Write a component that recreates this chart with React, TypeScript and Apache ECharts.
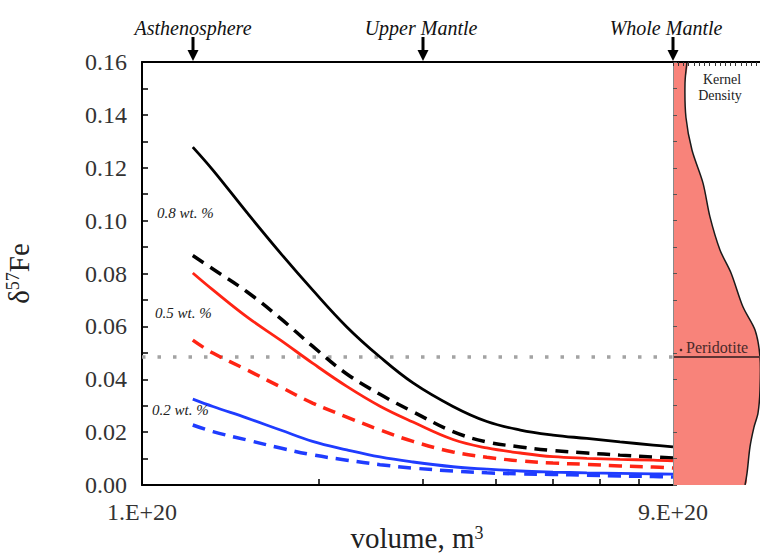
import React, { useEffect, useRef } from 'react';
import * as echarts from 'echarts';

// Volume in units of 1e20 m^3 (log-scaled axis)
const VOLUME = [1.22, 1.32, 1.51, 1.72, 1.95, 2.23, 2.54, 2.89, 3.38, 3.86, 4.4, 5.0, 5.71, 6.5, 7.4, 8.0];
const BLACK_SOLID = [0.1278, 0.1191, 0.1029, 0.0877, 0.0738, 0.0598, 0.0484, 0.0386, 0.0297, 0.0240, 0.0208, 0.0189, 0.0176, 0.0163, 0.0151, 0.0144];
const BLACK_DASHED = [0.0868, 0.0817, 0.0730, 0.0630, 0.0525, 0.0420, 0.0343, 0.0277, 0.0202, 0.0163, 0.0144, 0.0130, 0.0121, 0.0113, 0.0106, 0.0102];
const RED_SOLID = [0.0802, 0.0738, 0.0635, 0.0548, 0.0461, 0.0373, 0.0298, 0.0238, 0.0172, 0.0140, 0.0121, 0.0107, 0.0101, 0.0097, 0.0094, 0.0091];
const RED_DASHED = [0.0548, 0.0499, 0.0435, 0.0371, 0.0310, 0.0257, 0.0208, 0.0165, 0.0125, 0.0105, 0.0091, 0.0083, 0.0078, 0.0072, 0.0068, 0.0064];
const BLUE_SOLID = [0.0325, 0.0297, 0.0253, 0.0208, 0.0165, 0.0133, 0.0106, 0.0087, 0.0069, 0.0060, 0.0053, 0.0049, 0.0046, 0.0044, 0.0042, 0.0041];
const BLUE_DASHED = [0.0227, 0.0202, 0.0170, 0.0140, 0.0114, 0.0094, 0.0077, 0.0064, 0.0053, 0.0046, 0.0042, 0.0040, 0.0037, 0.0034, 0.0032, 0.0030];

// Kernel density of peridotite δ57Fe (relative density units)
const DENSITY_DELTA = [0.16, 0.152, 0.139, 0.1267, 0.1142, 0.1014, 0.0889, 0.0802, 0.0673, 0.0586, 0.0484, 0.0359, 0.0272, 0.0219, 0.0144, 0.0045, 0];
const DENSITY = [16.1, 13.8, 14.9, 21.8, 34.5, 42.5, 54.0, 66.7, 80.5, 94.3, 100, 100, 97.7, 93.1, 88.5, 85.1, 82.8];
const PERIDOTITE = 0.0484;

const Y_TICK_LABELS = ['0.00', '0.02', '0.04', '0.06', '0.08', '0.10', '0.12', '0.14', '0.16'];
const X_MINOR_TICKS = [2, 3, 4, 5, 6, 7];
const X_LABEL_VOLUMES = [1, 8];
const X_TICK_LABELS = ['1.E+20', '9.E+20'];
const REGIONS = ['Asthenosphere', 'Upper Mantle', 'Whole Mantle'];
const REGION_VOLUMES = [1.22, 3.0, 8.0];
const WT_LABELS = ['0.8 wt. %', '0.5 wt. %', '0.2 wt. %'];

const LOGMAX = Math.log10(8);
const SERIF = 'Liberation Serif, Times New Roman, serif';
const G = { left: 142, top: 62, width: 531, height: 423 };
const xPix = (v: number) => G.left + (G.width * Math.log10(v)) / LOGMAX;

const RED = '#ff2414';
const BLUE = '#1f3cff';

function curve(name: string, ys: number[], color: string, dashed: boolean) {
  return {
    name,
    type: 'line',
    xAxisIndex: 0,
    yAxisIndex: 0,
    data: VOLUME.map((v, i) => [Math.log10(v), ys[i]]),
    smooth: 0.4,
    showSymbol: false,
    symbol: 'none',
    z: 3,
    lineStyle: { color, width: dashed ? 3.5 : 2.8, type: dashed ? [13, 8] : 'solid', cap: 'butt' },
  };
}

export default function App() {
  const ref = useRef<HTMLDivElement>(null);
  useEffect(() => {
    if (!ref.current) return;
    const chart = echarts.init(ref.current, undefined, { renderer: 'svg' });

    const textEl = (text: string, x: number, y: number, size: number, opts: any = {}) => ({
      type: 'text',
      x,
      y,
      z: 100,
      silent: true,
      style: {
        text,
        fontFamily: SERIF,
        fontSize: size,
        fontStyle: opts.italic ? 'italic' : 'normal',
        fill: opts.color || '#111',
        align: opts.align || 'left',
        verticalAlign: 'middle',
      },
    });

    const arrows: any[] = [];
    REGION_VOLUMES.forEach((v) => {
      const x = Math.round(xPix(v));
      arrows.push({ type: 'rect', z: 100, silent: true, shape: { x: x - 1.5, y: 37, width: 3, height: 15 }, style: { fill: '#000' } });
      arrows.push({ type: 'polygon', z: 100, silent: true, shape: { points: [[x - 5.5, 50], [x + 5.5, 50], [x, 61]] }, style: { fill: '#000' } });
    });
    const regionLabelX = [193, 421, 666];

    const option: any = {
      animation: false,
      backgroundColor: '#ffffff',
      textStyle: { fontFamily: SERIF },
      grid: [
        { left: G.left, top: G.top, width: G.width, height: G.height, containLabel: false, outerBoundsMode: 'none' },
        { left: 673, top: G.top, width: 87, height: G.height, containLabel: false, outerBoundsMode: 'none' },
      ],
      xAxis: [
        {
          gridIndex: 0,
          type: 'value',
          min: 0,
          max: LOGMAX,
          position: 'bottom',
          axisLine: { onZero: false, lineStyle: { color: '#000', width: 2 } },
          axisTick: { inside: true, length: 6, customValues: X_MINOR_TICKS.map((v) => Math.log10(v)), lineStyle: { color: '#000', width: 1.5 } },
          axisLabel: {
            customValues: X_LABEL_VOLUMES.map((v) => Math.log10(v)),
            formatter: (val: number) => {
              let best = 0;
              X_LABEL_VOLUMES.forEach((v, i) => {
                if (Math.abs(Math.log10(v) - val) < Math.abs(Math.log10(X_LABEL_VOLUMES[best]) - val)) best = i;
              });
              return X_TICK_LABELS[best];
            },
            fontFamily: SERIF,
            fontSize: 24,
            color: '#333',
            margin: 15,
          },
          splitLine: { show: false },
        },
        {
          gridIndex: 0,
          type: 'value',
          min: 0,
          max: LOGMAX,
          position: 'top',
          axisLine: { onZero: false, lineStyle: { color: '#000', width: 2 } },
          axisTick: { show: false },
          axisLabel: { show: false },
          splitLine: { show: false },
        },
        {
          gridIndex: 1,
          type: 'value',
          min: 0,
          max: 100,
          interval: 6,
          position: 'top',
          z: 5,
          axisLine: { onZero: false, lineStyle: { color: '#000', width: 2 } },
          axisTick: { inside: true, length: 4, lineStyle: { color: '#333', width: 1 } },
          axisLabel: { show: false },
          splitLine: { show: false },
        },
      ],
      yAxis: [
        {
          gridIndex: 0,
          type: 'value',
          min: 0,
          max: 0.16,
          interval: 0.01,
          name: '{a|δ}{b|57}{a|Fe}',
          nameLocation: 'middle',
          nameRotate: 90,
          nameGap: 109,
          nameTextStyle: {
            rich: {
              a: { fontFamily: SERIF, fontSize: 29, color: '#222' },
              b: { fontFamily: SERIF, fontSize: 18, color: '#222', verticalAlign: 'top' },
            },
          },
          axisLine: { onZero: false, lineStyle: { color: '#000', width: 2 } },
          axisTick: { inside: true, length: 6, lineStyle: { color: '#000', width: 1.5 } },
          axisLabel: {
            customValues: Y_TICK_LABELS.map(Number),
            formatter: (v: number) => v.toFixed(2),
            fontFamily: SERIF,
            fontSize: 24,
            color: '#333',
            margin: 15,
          },
          splitLine: { show: false },
        },
        {
          gridIndex: 1,
          type: 'value',
          min: 0,
          max: 0.16,
          interval: 0.01,
          z: 5,
          axisLine: { onZero: false, lineStyle: { color: '#8a8a8a', width: 1 } },
          axisTick: { inside: true, length: 4, lineStyle: { color: '#555', width: 1 } },
          axisLabel: { show: false },
          splitLine: { show: false },
        },
      ],
      series: [
        {
          name: 'Peridotite reference',
          type: 'line',
          xAxisIndex: 0,
          yAxisIndex: 0,
          data: [[0, PERIDOTITE], [LOGMAX, PERIDOTITE]],
          showSymbol: false,
          symbol: 'none',
          z: 2,
          lineStyle: { color: '#a3a3a3', width: 3.5, type: [3.5, 12], cap: 'butt' },
        },
        curve('0.8 wt.% solid', BLACK_SOLID, '#000', false),
        curve('0.8 wt.% dashed', BLACK_DASHED, '#000', true),
        curve('0.5 wt.% solid', RED_SOLID, RED, false),
        curve('0.5 wt.% dashed', RED_DASHED, RED, true),
        curve('0.2 wt.% solid', BLUE_SOLID, BLUE, false),
        curve('0.2 wt.% dashed', BLUE_DASHED, BLUE, true),
        {
          name: 'Kernel Density',
          type: 'custom',
          xAxisIndex: 2,
          yAxisIndex: 1,
          clip: true,
          silent: true,
          z: 2,
          data: DENSITY.map((d, i) => [d, DENSITY_DELTA[i]]),
          encode: { x: 0, y: 1 },
          renderItem: (params: any, api: any) => {
            if (params.dataIndex !== 0) return null;
            const pts = DENSITY.map((d, i) => api.coord([d, DENSITY_DELTA[i]]));
            const b0 = api.coord([0, DENSITY_DELTA[0]]);
            const b1 = api.coord([0, DENSITY_DELTA[DENSITY_DELTA.length - 1]]);
            const lo = [b0[0], b0[1]];
            return {
              type: 'group',
              children: [
                {
                  type: 'polygon',
                  shape: { points: [b0, ...pts, b1], smooth: 0.3, smoothConstraint: [lo, lo] },
                  style: { fill: '#f8837a', stroke: 'none' },
                },
                {
                  type: 'polyline',
                  shape: { points: pts, smooth: 0.3 },
                  style: { fill: 'none', stroke: '#1a1a1a', lineWidth: 1.5 },
                },
              ],
            };
          },
        },
        {
          name: 'Peridotite',
          type: 'line',
          xAxisIndex: 2,
          yAxisIndex: 1,
          data: [[0, PERIDOTITE], [100, PERIDOTITE]],
          showSymbol: false,
          symbol: 'none',
          z: 4,
          lineStyle: { color: '#5e3434', width: 2 },
        },
      ],
      graphic: [
        ...REGIONS.map((r, i) => textEl(r, regionLabelX[i], 28, 20, { italic: true, align: 'center' })),
        ...arrows,
        textEl(WT_LABELS[0], 157, 213, 15, { italic: true, color: '#222' }),
        textEl(WT_LABELS[1], 155, 313, 15, { italic: true, color: '#222' }),
        textEl(WT_LABELS[2], 152, 410, 15, { italic: true, color: '#222' }),
        textEl('Kernel', 722, 79, 14, { align: 'center', color: '#222' }),
        textEl('Density', 720, 95, 14, { align: 'center', color: '#222' }),
        { type: 'circle', z: 100, silent: true, shape: { cx: 681, cy: 350, r: 1.3 }, style: { fill: '#4a2a2a' } },
        textEl('Peridotite', 686, 347, 16, { color: '#4a2a2a' }),
        {
          type: 'text',
          x: 417,
          y: 538,
          z: 100,
          silent: true,
          style: {
            text: '{t|volume, m}{s|3}',
            align: 'center',
            verticalAlign: 'middle',
            rich: {
              t: { fontFamily: SERIF, fontSize: 29, fill: '#222' },
              s: { fontFamily: SERIF, fontSize: 18, fill: '#222', verticalAlign: 'top' },
            },
          },
        },
      ],
    };

    chart.setOption(option);
    return () => chart.dispose();
  }, []);

  return <div ref={ref} style={{ position: 'fixed', left: 0, top: 0, width: 760, height: 554, background: '#fff' }} />;
}
